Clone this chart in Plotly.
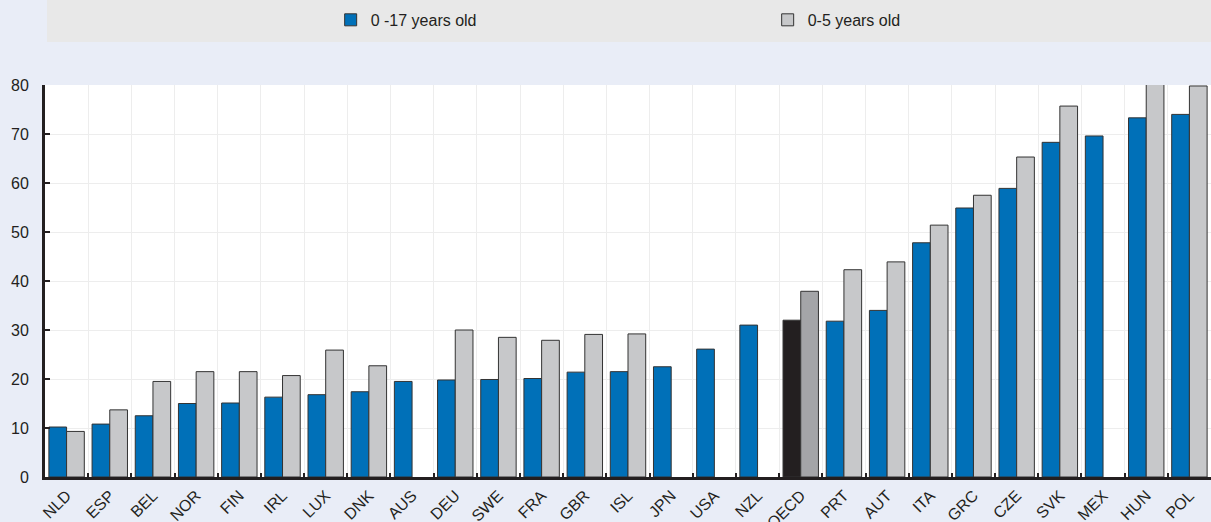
import plotly.graph_objects as go

countries = ["NLD", "ESP", "BEL", "NOR", "FIN", "IRL", "LUX", "DNK", "AUS", "DEU",
             "SWE", "FRA", "GBR", "ISL", "JPN", "USA", "NZL", "OECD", "PRT", "AUT",
             "ITA", "GRC", "CZE", "SVK", "MEX", "HUN", "POL"]
age_0_17 = [10.2, 10.8, 12.5, 15.0, 15.1, 16.3, 16.8, 17.4, 19.5, 19.8,
            19.9, 20.1, 21.4, 21.5, 22.5, 26.1, 31.0, 32.0, 31.8, 34.0,
            47.8, 54.9, 58.9, 68.3, 69.6, 73.3, 74.0]
age_0_5 = [9.3, 13.7, 19.5, 21.5, 21.5, 20.7, 25.9, 22.7, None, 30.0,
           28.5, 27.9, 29.1, 29.2, None, None, None, 37.9, 42.3, 43.9,
           51.4, 57.5, 65.3, 75.7, None, 80.1, 79.8]
yticks = [0, 10, 20, 30, 40, 50, 60, 70, 80]

BLUE = "#0070B8"
GREY = "#C7C8CA"
DARK = "#231F20"
DARK_GREY = "#A4A5A8"

c1 = [DARK if c == "OECD" else BLUE for c in countries]
c2 = [DARK_GREY if c == "OECD" else GREY for c in countries]

fig = go.Figure()
fig.add_trace(go.Bar(x=countries, y=age_0_17, name="0 -17 years old",
                     marker=dict(color=c1, line=dict(color="#333333", width=1))))
fig.add_trace(go.Bar(x=countries, y=age_0_5, name="0-5 years old",
                     marker=dict(color=c2, line=dict(color="#333333", width=1))))

# grey band behind the legend
fig.add_shape(type="rect", xref="paper", yref="paper", x0=0.0017, x1=1.0,
              y0=1.1097, y1=1.25, fillcolor="#E8E8E8", line_width=0, layer="below")

font_family = "Liberation Sans, Arial, sans-serif"

fig.update_layout(
    width=1211, height=522,
    margin=dict(l=45, r=0, t=85, b=45, autoexpand=False),
    paper_bgcolor="#E9EDF7",
    plot_bgcolor="#FFFFFF",
    barmode="group",
    bargap=0.18,
    bargroupgap=0,
    font=dict(family=font_family, size=16, color="#231F20"),
    legend=dict(orientation="h", x=0.245, y=1.166, xanchor="left", yanchor="middle",
                entrywidth=392, entrywidthmode="pixels", bgcolor="rgba(0,0,0,0)",
                font=dict(size=16), traceorder="normal"),
    showlegend=True,
)
fig.update_xaxes(
    tickangle=-45, tickson="boundaries", ticks="inside", ticklen=4, tickwidth=1.5,
    tickcolor=DARK, showgrid=True, gridcolor="#EDEDED", showline=True,
    linecolor=DARK, linewidth=3, tickfont=dict(size=16),
)
fig.update_yaxes(
    range=[0, 80], tickvals=yticks, ticks="inside", ticklen=5, tickwidth=1.5,
    tickcolor=DARK, showgrid=True, gridcolor="#EDEDED", showline=True,
    linecolor=DARK, linewidth=3, zeroline=False, tickfont=dict(size=16),
    ticklabelstandoff=10,
)

# drop the default page margin so the figure fills the window
fig.write_html("out.html", config={"displayModeBar": False},
               post_script="document.body.style.margin='0';")
